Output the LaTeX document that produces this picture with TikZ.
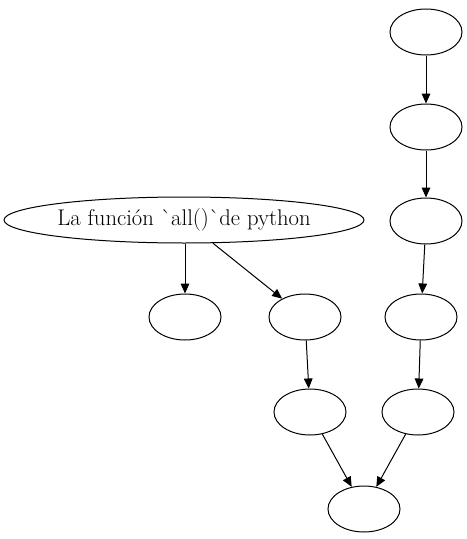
\documentclass[tikz,border=0pt]{standalone}
\usepackage{amsmath}
\usetikzlibrary{arrows.meta,shapes.geometric}

\begin{document}
\begin{tikzpicture}[x=0.75pt,y=-0.75pt,line width=0.75pt]
\tikzstyle{every node}+=[inner sep=0pt,font=\fontsize{17}{20}\selectfont]
\tikzstyle{blob}=[draw=black,ellipse,minimum width=54pt,minimum height=34.5pt]
\tikzstyle{edge}=[draw=black,-{Triangle[length=7.5pt,width=6.5pt]}]
\useasboundingbox (0,0) rectangle (467,539);
\node [blob] (r1) at (426,32) {};
\node [blob] (r2) at (426,127) {};
\node [blob] (r3) at (426,221) {};
\node [blob] (r4) at (421,317) {};
\node [blob] (r5) at (418,412) {};
\node [blob,minimum width=270pt] (root) at (184,220) {La función \textasciigrave all()\textasciigrave de python};
\node [blob] (leaf) at (185,317) {};
\node [blob] (m1) at (305,317) {};
\node [blob] (m2) at (310,412) {};
\node [blob] (sink) at (364,509) {};
\draw [edge] (r1) -- (r2);
\draw [edge] (r2) -- (r3);
\draw [edge] (r3) -- (r4);
\draw [edge] (r4) -- (r5);
\draw [edge] (r5) -- (sink);
\draw [edge] (root.south -| leaf) -- (leaf);
\draw [edge] (root) -- (m1);
\draw [edge] (m1) -- (m2);
\draw [edge] (m2) -- (sink);
\end{tikzpicture}
\end{document}
